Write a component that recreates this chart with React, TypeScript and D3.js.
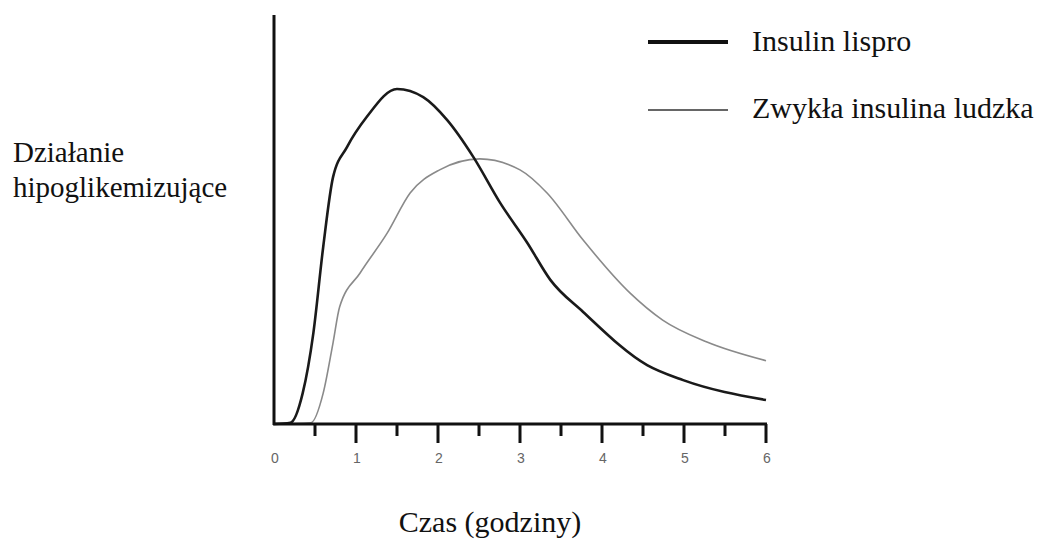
import * as d3 from "d3";
import React from "react";

// time in hours, hypoglycaemic effect in arbitrary units
const lisproX = [0, 0.2, 0.35, 0.48, 0.6, 0.72, 0.89, 1.13, 1.5, 1.82, 2.11, 2.43, 2.76, 3.09, 3.37, 3.77, 4.55, 4.99, 6];
const lisproY = [0, 0.3, 7.6, 22.4, 43.6, 60.8, 68.2, 75.6, 82.5, 80.5, 74.9, 65.8, 54.4, 44.6, 35.5, 27.6, 14.5, 10.8, 5.9];
const humanX = [0, 0.45, 0.6, 0.72, 0.8, 1.05, 1.38, 1.66, 2.02, 2.51, 3.0, 3.33, 3.77, 4.34, 4.74, 5.28, 6];
const humanY = [0, 0.3, 7.6, 20, 28.8, 37.2, 47, 56.9, 62.6, 65.3, 62.6, 56.9, 45.3, 32.3, 25.6, 20.2, 15.6];
const xTicks = [0, 1, 2, 3, 4, 5, 6];
const minorTicks = [0.5, 1.5, 2.5, 3.5, 4.5, 5.5];
const legendLabels = ["Insulin lispro", "Zwykła insulina ludzka"];

const serif = "'Liberation Serif', 'Times New Roman', serif";

export default function App() {
  const width = 1045;
  const height = 541;
  const x0 = 274;
  const x1 = 766;
  const yBase = 424;
  const yTop = 15;

  const x = d3.scaleLinear().domain([0, 6]).range([x0, x1]);
  const y = d3.scaleLinear().domain([0, 100]).range([yBase, yBase - 406]);

  const line = d3
    .line<[number, number]>()
    .x((d) => x(d[0]))
    .y((d) => y(d[1]))
    .curve(d3.curveMonotoneX);

  const lispro = lisproX.map((v, i) => [v, lisproY[i]] as [number, number]);
  const human = humanX.map((v, i) => [v, humanY[i]] as [number, number]);

  return (
    <svg
      width={width}
      height={height}
      style={{ position: "absolute", left: 0, top: 0, background: "#fff" }}
    >
      {/* curves */}
      <path d={line(human) || ""} fill="none" stroke="#8a8a8a" strokeWidth={1.6} />
      <path d={line(lispro) || ""} fill="none" stroke="#1a1a1a" strokeWidth={2.6} />

      {/* axes */}
      <line x1={x0} x2={x0} y1={yTop} y2={yBase + 1} stroke="#111" strokeWidth={3} />
      <line x1={x0 - 1} x2={x1 + 1} y1={yBase} y2={yBase} stroke="#111" strokeWidth={3} />
      {xTicks
        .filter((t) => t > 0)
        .map((t) => (
          <line key={"M" + t} x1={x(t)} x2={x(t)} y1={yBase} y2={yBase + 19} stroke="#111" strokeWidth={3} />
        ))}
      {minorTicks.map((t) => (
        <line key={"m" + t} x1={x(t)} x2={x(t)} y1={yBase} y2={yBase + 12} stroke="#111" strokeWidth={3} />
      ))}
      {xTicks.map((t) => (
        <text
          key={"l" + t}
          x={x(t) + 1}
          y={463}
          textAnchor="middle"
          fontFamily="'Liberation Sans', Arial, sans-serif"
          fontSize={14}
          fill="#666"
        >
          {t}
        </text>
      ))}

      {/* axis titles */}
      <text x={13} y={162} fontFamily={serif} fontSize={29} fill="#111">
        Działanie
      </text>
      <text x={13} y={197} fontFamily={serif} fontSize={29} fill="#111">
        hipoglikemizujące
      </text>
      <text x={490} y={532} textAnchor="middle" fontFamily={serif} fontSize={30} fill="#111">
        Czas (godziny)
      </text>

      {/* legend */}
      <line x1={648} x2={728} y1={42} y2={42} stroke="#111" strokeWidth={4} />
      <text x={752} y={51} fontFamily={serif} fontSize={30} fill="#111">
        {legendLabels[0]}
      </text>
      <line x1={648} x2={728} y1={110} y2={110} stroke="#333" strokeWidth={1.6} />
      <text x={752} y={118} fontFamily={serif} fontSize={30} fill="#111">
        {legendLabels[1]}
      </text>
    </svg>
  );
}
